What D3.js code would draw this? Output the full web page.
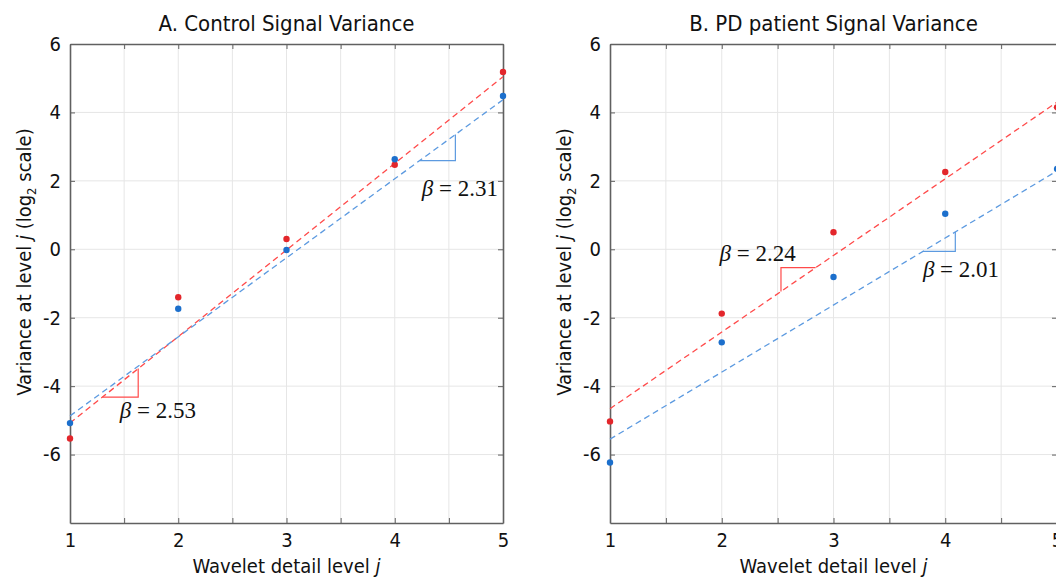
<!DOCTYPE html>
<html>
<head>
<meta charset="utf-8">
<script src="https://cdn.jsdelivr.net/npm/d3@7"></script>
<style>
  html, body { margin: 0; padding: 0; background: #fff; }
  svg { display: block; }
  .tick text { font-family: "DejaVu Sans Condensed", "DejaVu Sans", sans-serif; }
</style>
</head>
<body>
<svg id="chart" width="1056" height="578"></svg>
<script>
// wavelet detail levels
const levels = [1, 2, 3, 4, 5];
const xTicks = [1, 2, 3, 4, 5];
const yTicks = [-6, -4, -2, 0, 2, 4, 6];

// panel A: control
const controlRed = [-5.53, -1.40, 0.30, 2.47, 5.18];
const controlBlue = [-5.08, -1.74, -0.02, 2.63, 4.48];
// fitted lines: value at level 1, slope
const controlRedFit = [-5.08, 2.53];
const controlBlueFit = [-4.87, 2.31];

// panel B: PD patient
const patientRed = [-5.03, -1.88, 0.50, 2.26, 4.15];
const patientBlue = [-6.23, -2.72, -0.81, 1.04, 2.35];
const patientRedFit = [-4.66, 2.24];
const patientBlueFit = [-5.55, 1.96];

const titles = ["A. Control Signal Variance", "B. PD patient Signal Variance"];
const betaLabels = ["2.53", "2.31", "2.24", "2.01"];

const RED_PT = "#e3262b", BLUE_PT = "#1c6fcc";
const RED_LN = "#ff4a4a", BLUE_LN = "#5c9ae0";
const AXIS = "#606060", GRID = "#e6e6e6";
const SANS = '"DejaVu Sans Condensed", "DejaVu Sans", sans-serif';

const svg = d3.select("#chart");

function drawPanel(p) {
    const x = d3.scaleLinear().domain([1, 5]).range([p.left, p.right]);
    const y = d3.scaleLinear().domain([-8, 6]).range([523, 44]);
    const g = svg.append("g");

    // grid
    g.append("g").selectAll("line")
        .data(d3.range(1.5, 5, 0.5))
        .join("line")
        .attr("x1", d => x(d)).attr("x2", d => x(d))
        .attr("y1", y(-8)).attr("y2", y(6))
        .attr("stroke", GRID).attr("stroke-width", 1);
    g.append("g").selectAll("line")
        .data(yTicks.filter(d => d > -8 && d < 6))
        .join("line")
        .attr("x1", x(1)).attr("x2", x(5))
        .attr("y1", d => y(d)).attr("y2", d => y(d))
        .attr("stroke", GRID).attr("stroke-width", 1);

    // axes (ticks pointing in)
    const xb = g.append("g")
        .attr("transform", `translate(0,${y(-8)})`)
        .call(d3.axisBottom(x).tickValues(d3.range(1, 5.01, 0.5))
            .tickSize(-5).tickSizeOuter(0)
            .tickFormat(d => xTicks.includes(d) ? String(d) : ""));
    xb.selectAll("text").attr("dy", 21).attr("font-size", 20).attr("fill", "#111");

    g.append("g")
        .attr("transform", `translate(0,${y(6)})`)
        .call(d3.axisTop(x).tickValues(d3.range(1, 5.01, 0.5))
            .tickSize(-5).tickSizeOuter(0).tickFormat(""));

    const yl = g.append("g")
        .attr("transform", `translate(${x(1)},0)`)
        .call(d3.axisLeft(y).tickValues(yTicks).tickSize(-5).tickSizeOuter(0)
            .tickFormat(d => String(d)));
    yl.selectAll("text").attr("x", -9).attr("font-size", 20).attr("fill", "#111");

    g.append("g")
        .attr("transform", `translate(${x(5)},0)`)
        .call(d3.axisRight(y).tickValues(yTicks).tickSize(-5).tickSizeOuter(0).tickFormat(""));

    g.selectAll(".domain").attr("stroke", AXIS).attr("stroke-width", 1.6);
    g.selectAll(".tick line").attr("stroke", AXIS).attr("stroke-width", 1);

    // fitted dashed lines
    const fitLine = (fit) => [[1, fit[0]], [5, fit[0] + 4 * fit[1]]];
    const line = d3.line().x(d => x(d[0])).y(d => y(d[1]));
    [[p.redFit, RED_LN], [p.blueFit, BLUE_LN]].forEach(([fit, col]) => {
        g.append("path")
            .attr("d", line(fitLine(fit)))
            .attr("fill", "none")
            .attr("stroke", col)
            .attr("stroke-width", 1.3)
            .attr("stroke-dasharray", "6,4");
    });

    // slope triangles
    const fv = (fit, j) => fit[0] + (j - 1) * fit[1];
    p.tri.forEach(t => {
        const fit = t.red ? p.redFit : p.blueFit;
        const col = t.red ? RED_LN : BLUE_LN;
        let pts;
        if (t.over) {
            pts = [[t.j0, fv(fit, t.j0)], [t.j0, fv(fit, t.j1)], [t.j1, fv(fit, t.j1)]];
        } else {
            pts = [[t.j0, fv(fit, t.j0)], [t.j1, fv(fit, t.j0)], [t.j1, fv(fit, t.j1)]];
        }
        g.append("path")
            .attr("d", line(pts))
            .attr("fill", "none")
            .attr("stroke", col)
            .attr("stroke-width", 1.2);
        const tx = g.append("text")
            .attr("x", x(t.lj)).attr("y", y(t.lv))
            .attr("font-family", '"Liberation Serif", "DejaVu Serif", serif')
            .attr("font-size", 23)
            .attr("fill", "#111");
        tx.append("tspan").attr("font-style", "italic").text("β");
        tx.append("tspan").text(" = " + t.label);
    });

    // points
    [[p.red, RED_PT], [p.blue, BLUE_PT]].forEach(([vals, col]) => {
        g.append("g").selectAll("circle")
            .data(vals)
            .join("circle")
            .attr("cx", (d, i) => x(levels[i]))
            .attr("cy", d => y(d))
            .attr("r", 3.2)
            .attr("fill", col);
    });

    // title
    g.append("text")
        .attr("x", (x(1) + x(5)) / 2).attr("y", 31)
        .attr("text-anchor", "middle")
        .attr("font-family", SANS).attr("font-size", 22)
        .attr("fill", "#111")
        .text(p.title);

    // x label
    const xt = g.append("text")
        .attr("x", (x(1) + x(5)) / 2).attr("y", 573)
        .attr("text-anchor", "middle")
        .attr("font-family", SANS).attr("font-size", 20)
        .attr("fill", "#111");
    xt.append("tspan").text("Wavelet detail level ");
    xt.append("tspan").attr("font-style", "italic").text("j");

    // y label
    const yt = g.append("text")
        .attr("transform", `translate(${p.left - 39},262) rotate(-90)`)
        .attr("text-anchor", "middle")
        .attr("font-family", SANS).attr("font-size", 20)
        .attr("fill", "#111");
    yt.append("tspan").text("Variance at level ");
    yt.append("tspan").attr("font-style", "italic").text("j");
    yt.append("tspan").text(" (log");
    yt.append("tspan").attr("font-size", 13).attr("dy", 5).text("2");
    yt.append("tspan").attr("dy", -5).text(" scale)");
}

drawPanel({
    left: 70, right: 503, title: titles[0],
    red: controlRed, blue: controlBlue,
    redFit: controlRedFit, blueFit: controlBlueFit,
    tri: [
        { red: true, j0: 1.30, j1: 1.63, over: false, lj: 1.46, lv: -4.94, label: betaLabels[0] },
        { red: false, j0: 4.23, j1: 4.56, over: false, lj: 4.25, lv: 1.56, label: betaLabels[1] }
    ]
});

drawPanel({
    left: 610, right: 1057, title: titles[1],
    red: patientRed, blue: patientBlue,
    redFit: patientRedFit, blueFit: patientBlueFit,
    tri: [
        { red: true, j0: 2.53, j1: 2.84, over: true, lj: 1.98, lv: -0.35, label: betaLabels[2] },
        { red: false, j0: 3.80, j1: 4.09, over: false, lj: 3.80, lv: -0.81, label: betaLabels[3] }
    ]
});
</script>
</body>
</html>
